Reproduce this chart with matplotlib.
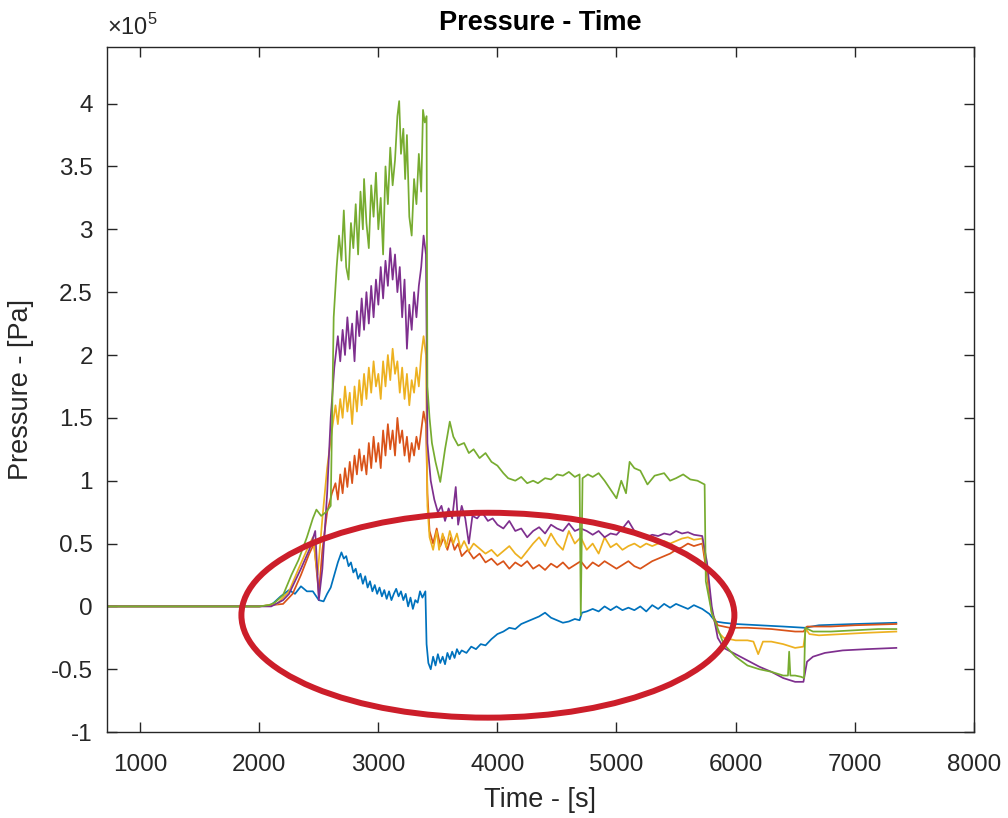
import numpy as np
import matplotlib
matplotlib.use('Agg')
import matplotlib.pyplot as plt
from matplotlib.patches import Ellipse
from matplotlib.ticker import FuncFormatter

plt.rcParams['font.family'] = ['Liberation Sans', 'DejaVu Sans']
plt.rcParams['mathtext.fontset'] = 'custom'
plt.rcParams['mathtext.rm'] = 'Liberation Sans'

# values: (time [s], pressure [1e5 Pa])
blue = [(720, 0), (2000, 0), (2100, 0.01), (2180, 0.08), (2250, 0.13), (2300, 0.1), (2350, 0.16),
        (2400, 0.12), (2450, 0.12), (2500, 0.05), (2540, 0.04), (2570, 0.1), (2600, 0.15),
        (2630, 0.25), (2660, 0.35), (2690, 0.43), (2710, 0.38), (2730, 0.4), (2750, 0.32),
        (2770, 0.35), (2790, 0.27), (2810, 0.3), (2830, 0.22), (2850, 0.26), (2870, 0.18),
        (2890, 0.24), (2910, 0.15), (2930, 0.2), (2950, 0.12), (2970, 0.17), (2990, 0.1),
        (3010, 0.15), (3030, 0.08), (3050, 0.13), (3070, 0.06), (3090, 0.12), (3110, 0.05),
        (3130, 0.1), (3150, 0.14), (3170, 0.08), (3190, 0.12), (3210, 0.05), (3230, 0.1),
        (3250, 0.0), (3270, 0.07), (3290, -0.02), (3310, 0.05), (3330, 0.03), (3350, 0.12),
        (3370, 0.07), (3395, 0.12), (3405, -0.3), (3420, -0.45), (3440, -0.5), (3460, -0.4),
        (3480, -0.47), (3500, -0.38), (3520, -0.45), (3540, -0.4), (3560, -0.46), (3580, -0.37),
        (3600, -0.42), (3620, -0.36), (3640, -0.41), (3660, -0.34), (3680, -0.38), (3700, -0.35),
        (3740, -0.37), (3780, -0.32), (3820, -0.34), (3860, -0.3), (3900, -0.31), (3950, -0.26),
        (4000, -0.22), (4050, -0.2), (4100, -0.17), (4150, -0.18), (4200, -0.14), (4250, -0.12),
        (4300, -0.1), (4350, -0.08), (4400, -0.05), (4450, -0.09), (4500, -0.11), (4550, -0.13),
        (4600, -0.12), (4650, -0.1), (4690, -0.11), (4710, -0.05), (4750, -0.04), (4800, -0.02),
        (4850, -0.04), (4900, 0.0), (4950, -0.03), (5000, 0.0), (5050, -0.03), (5100, -0.01),
        (5150, -0.03), (5200, 0.0), (5250, -0.04), (5300, 0.01), (5350, -0.02), (5400, 0.02),
        (5450, -0.01), (5500, 0.02), (5550, 0.0), (5600, -0.02), (5650, 0.01), (5720, -0.02),
        (5780, -0.06), (5830, -0.12), (5900, -0.13), (6000, -0.14), (6200, -0.15), (6400, -0.16),
        (6580, -0.17), (6700, -0.15), (7000, -0.14), (7350, -0.13)]

orange = [(720, 0), (2000, 0), (2200, 0.02), (2280, 0.1), (2350, 0.25), (2420, 0.42), (2460, 0.5),
          (2500, 0.1), (2530, 0.45), (2570, 0.75), (2610, 0.9), (2640, 0.98), (2660, 0.85),
          (2680, 1.05), (2700, 0.9), (2720, 1.1), (2740, 0.95), (2760, 1.15), (2780, 0.98),
          (2800, 1.2), (2820, 1.05), (2840, 1.25), (2860, 1.08), (2880, 1.2), (2900, 1.05),
          (2920, 1.3), (2940, 1.1), (2960, 1.35), (2980, 1.15), (3000, 1.3), (3020, 1.1),
          (3040, 1.4), (3060, 1.2), (3080, 1.45), (3100, 1.25), (3120, 1.4), (3140, 1.2),
          (3160, 1.5), (3180, 1.3), (3200, 1.4), (3220, 1.2), (3240, 1.35), (3260, 1.15),
          (3280, 1.3), (3300, 1.2), (3320, 1.35), (3340, 1.25), (3360, 1.4), (3380, 1.55),
          (3400, 1.45), (3412, 0.9), (3430, 0.6), (3460, 0.5), (3490, 0.62), (3520, 0.48),
          (3550, 0.55), (3580, 0.45), (3610, 0.55), (3640, 0.45), (3670, 0.5), (3700, 0.4),
          (3750, 0.45), (3800, 0.38), (3850, 0.42), (3900, 0.35), (3950, 0.38), (4000, 0.33),
          (4050, 0.36), (4100, 0.3), (4150, 0.35), (4200, 0.32), (4250, 0.36), (4300, 0.3),
          (4350, 0.33), (4400, 0.29), (4450, 0.34), (4500, 0.31), (4550, 0.35), (4600, 0.3),
          (4650, 0.33), (4700, 0.36), (4750, 0.3), (4800, 0.35), (4850, 0.32), (4900, 0.36),
          (4950, 0.33), (5000, 0.3), (5050, 0.33), (5100, 0.36), (5150, 0.32), (5200, 0.3),
          (5250, 0.33), (5300, 0.36), (5350, 0.38), (5400, 0.4), (5450, 0.42), (5500, 0.45),
          (5550, 0.47), (5600, 0.5), (5650, 0.48), (5720, 0.5), (5760, 0.25), (5800, -0.05),
          (5850, -0.15), (5950, -0.17), (6100, -0.17), (6300, -0.18), (6500, -0.2), (6570, -0.2),
          (6600, -0.16), (6800, -0.16), (7000, -0.15), (7350, -0.14)]

yellow = [(720, 0), (2000, 0), (2150, 0.02), (2250, 0.12), (2330, 0.3), (2400, 0.45), (2450, 0.55),
          (2490, 0.25), (2530, 0.7), (2570, 1.1), (2610, 1.4), (2640, 1.6), (2660, 1.45),
          (2680, 1.65), (2700, 1.5), (2720, 1.75), (2740, 1.55), (2760, 1.7), (2780, 1.45),
          (2800, 1.75), (2820, 1.55), (2840, 1.8), (2860, 1.6), (2880, 1.85), (2900, 1.65),
          (2920, 1.9), (2940, 1.7), (2960, 1.95), (2980, 1.75), (3000, 1.85), (3020, 1.65),
          (3040, 1.95), (3060, 1.75), (3080, 2.0), (3100, 1.8), (3120, 2.05), (3140, 1.85),
          (3160, 1.95), (3180, 1.7), (3200, 1.9), (3220, 1.65), (3240, 1.85), (3260, 1.6),
          (3280, 1.8), (3300, 1.7), (3320, 1.9), (3340, 1.75), (3360, 2.0), (3380, 2.15),
          (3400, 2.0), (3412, 0.8), (3430, 0.55), (3460, 0.45), (3490, 0.6), (3510, 0.45),
          (3540, 0.58), (3570, 0.47), (3600, 0.6), (3630, 0.5), (3660, 0.58), (3690, 0.46),
          (3720, 0.52), (3760, 0.44), (3800, 0.5), (3850, 0.46), (3900, 0.42), (3950, 0.45),
          (4000, 0.4), (4050, 0.44), (4100, 0.48), (4150, 0.42), (4200, 0.38), (4250, 0.44),
          (4300, 0.5), (4350, 0.55), (4400, 0.48), (4450, 0.58), (4500, 0.5), (4550, 0.45),
          (4600, 0.6), (4650, 0.5), (4700, 0.55), (4750, 0.45), (4800, 0.5), (4850, 0.42),
          (4900, 0.55), (4950, 0.47), (5000, 0.5), (5050, 0.45), (5100, 0.48), (5150, 0.5),
          (5200, 0.47), (5250, 0.5), (5300, 0.48), (5350, 0.5), (5400, 0.52), (5450, 0.5),
          (5500, 0.52), (5550, 0.54), (5600, 0.55), (5650, 0.53), (5720, 0.54), (5760, 0.3),
          (5800, -0.05), (5850, -0.2), (5900, -0.25), (6000, -0.27), (6100, -0.27), (6150, -0.28),
          (6190, -0.38), (6230, -0.28), (6300, -0.28), (6400, -0.3), (6500, -0.33), (6570, -0.32),
          (6590, -0.18), (6620, -0.22), (6700, -0.23), (6900, -0.22), (7100, -0.21), (7350, -0.2)]

purple = [(720, 0), (2000, 0), (2100, 0.0), (2200, 0.05), (2250, 0.1), (2350, 0.3), (2420, 0.45),
          (2470, 0.6), (2500, 0.05), (2530, 0.3), (2570, 0.9), (2600, 1.5), (2630, 1.9),
          (2660, 2.15), (2680, 1.95), (2700, 2.2), (2720, 2.0), (2740, 2.3), (2760, 2.05),
          (2780, 2.25), (2800, 1.95), (2820, 2.35), (2840, 2.15), (2860, 2.45), (2880, 2.2),
          (2900, 2.5), (2920, 2.25), (2940, 2.55), (2960, 2.3), (2980, 2.6), (3000, 2.4),
          (3020, 2.7), (3040, 2.45), (3060, 2.75), (3080, 2.55), (3100, 2.85), (3120, 2.6),
          (3140, 2.8), (3160, 2.5), (3180, 2.7), (3200, 2.3), (3220, 2.6), (3240, 2.05),
          (3260, 2.4), (3280, 2.2), (3300, 2.5), (3320, 2.3), (3340, 2.55), (3360, 2.7),
          (3380, 2.95), (3400, 2.8), (3412, 1.3), (3440, 1.0), (3470, 0.85), (3500, 0.75),
          (3530, 0.8), (3560, 0.68), (3590, 0.78), (3620, 0.7), (3650, 0.95), (3670, 0.65),
          (3700, 0.8), (3730, 0.7), (3760, 0.5), (3790, 0.72), (3830, 0.7), (3870, 0.75),
          (3920, 0.68), (3960, 0.7), (4000, 0.65), (4050, 0.62), (4100, 0.68), (4150, 0.6),
          (4200, 0.62), (4250, 0.55), (4300, 0.6), (4350, 0.63), (4400, 0.58), (4450, 0.65),
          (4500, 0.62), (4550, 0.6), (4600, 0.66), (4650, 0.6), (4700, 0.62), (4750, 0.6),
          (4800, 0.57), (4850, 0.6), (4900, 0.55), (4950, 0.58), (5000, 0.57), (5050, 0.62),
          (5100, 0.68), (5150, 0.6), (5200, 0.57), (5250, 0.55), (5300, 0.57), (5350, 0.56),
          (5400, 0.58), (5450, 0.57), (5500, 0.6), (5550, 0.58), (5600, 0.59), (5650, 0.57),
          (5720, 0.56), (5760, 0.35), (5800, 0.0), (5850, -0.25), (5900, -0.33), (6000, -0.38),
          (6100, -0.43), (6200, -0.48), (6300, -0.52), (6400, -0.57), (6500, -0.6), (6570, -0.6),
          (6600, -0.44), (6650, -0.4), (6750, -0.37), (6900, -0.35), (7100, -0.34), (7350, -0.33)]

green = [(720, 0), (2000, 0), (2080, 0.01), (2130, 0.03), (2200, 0.09), (2270, 0.25), (2330, 0.37),
         (2400, 0.55), (2450, 0.7), (2480, 0.77), (2520, 0.72), (2560, 0.75), (2600, 0.8),
         (2625, 2.3), (2650, 2.7), (2670, 2.95), (2690, 2.75), (2710, 3.15), (2730, 2.7),
         (2750, 2.6), (2770, 3.05), (2790, 2.85), (2810, 3.2), (2830, 2.8), (2850, 3.3),
         (2870, 3.0), (2880, 3.4), (2900, 3.05), (2920, 2.85), (2940, 3.35), (2960, 3.1),
         (2980, 3.45), (3000, 3.0), (3020, 3.25), (3040, 2.8), (3060, 3.5), (3080, 3.2),
         (3100, 3.65), (3120, 3.35), (3140, 3.55), (3160, 3.9), (3175, 4.02), (3190, 3.6),
         (3210, 3.8), (3225, 3.4), (3240, 3.75), (3260, 3.1), (3280, 2.95), (3300, 3.4),
         (3320, 3.2), (3340, 3.6), (3360, 3.3), (3375, 3.95), (3390, 3.85), (3405, 3.9),
         (3412, 1.75), (3430, 1.5), (3450, 1.3), (3480, 1.15), (3520, 0.99), (3560, 1.25),
         (3600, 1.47), (3630, 1.35), (3670, 1.28), (3720, 1.3), (3760, 1.22), (3800, 1.25),
         (3850, 1.18), (3900, 1.22), (3950, 1.15), (4000, 1.12), (4050, 1.06), (4090, 1.02),
         (4150, 1.0), (4200, 1.03), (4250, 0.98), (4300, 1.0), (4340, 0.98), (4400, 1.02),
         (4450, 1.01), (4500, 1.05), (4550, 1.04), (4600, 1.07), (4650, 1.03), (4690, 1.05),
         (4700, -0.07), (4715, 1.02), (4760, 1.05), (4800, 1.03), (4850, 1.06), (4900, 1.0),
         (4950, 0.93), (5000, 0.86), (5040, 1.0), (5080, 0.9), (5110, 1.15), (5150, 1.1),
         (5200, 1.08), (5260, 0.97), (5320, 1.04), (5400, 1.06), (5450, 1.0), (5500, 1.02),
         (5560, 1.05), (5620, 1.01), (5680, 1.0), (5740, 0.97), (5750, 0.2), (5800, -0.05),
         (5900, -0.3), (6000, -0.4), (6100, -0.47), (6200, -0.5), (6300, -0.52), (6400, -0.55),
         (6440, -0.55), (6450, -0.36), (6460, -0.55), (6500, -0.55), (6550, -0.56), (6575, -0.57),
         (6585, -0.17), (6650, -0.2), (6800, -0.2), (7000, -0.19), (7200, -0.18), (7350, -0.18)]

series = [blue, orange, yellow, purple, green]
colors = ['#0072BD', '#D95319', '#EDB120', '#7E2F8E', '#77AC30']

x_ticks = [1000, 2000, 3000, 4000, 5000, 6000, 7000, 8000]
y_ticks = [-1, -0.5, 0, 0.5, 1, 1.5, 2, 2.5, 3, 3.5, 4]

fig = plt.figure(figsize=(10.08, 8.18), dpi=100)
ax = fig.add_axes([0.106, 0.105, 0.86, 0.8375])

for s, c in zip(series, colors):
    d = np.array(s)
    ax.plot(d[:, 0], d[:, 1] * 1e5, color=c, lw=1.25)

# red ring drawn over the chart
ax.add_patch(Ellipse((3920, -0.07e5), 4140, 1.63e5, fill=False, ec='#cc1e2a', lw=4.3, zorder=5))

ax.set_xlim(720, 8000)
ax.set_ylim(-1e5, 4.45e5)
ax.set_xticks(x_ticks)
ax.set_yticks([v * 1e5 for v in y_ticks])
ax.yaxis.set_major_formatter(FuncFormatter(lambda v, pos: '%g' % (v / 1e5)))

ax.tick_params(direction='in', length=7, width=1, top=True, right=True,
               labelsize=17.5, colors='#262626')
ax.tick_params(axis='x', pad=16)
ax.tick_params(axis='y', pad=10)
for sp in ax.spines.values():
    sp.set_color('#262626')
    sp.set_linewidth(1)

ax.text(0.0, 1.01, r'$\times10^{5}$', transform=ax.transAxes, ha='left', va='bottom',
        fontsize=17, color='#262626')
ax.set_title('Pressure - Time', fontsize=19.5, fontweight='bold', color='black', pad=12)
ax.set_xlabel('Time - [s]', fontsize=19.5, color='#262626', labelpad=8)
ax.set_ylabel('Pressure - [Pa]', fontsize=19.5, color='#262626', labelpad=12)

fig.savefig('out.png', dpi=100, facecolor='white')
